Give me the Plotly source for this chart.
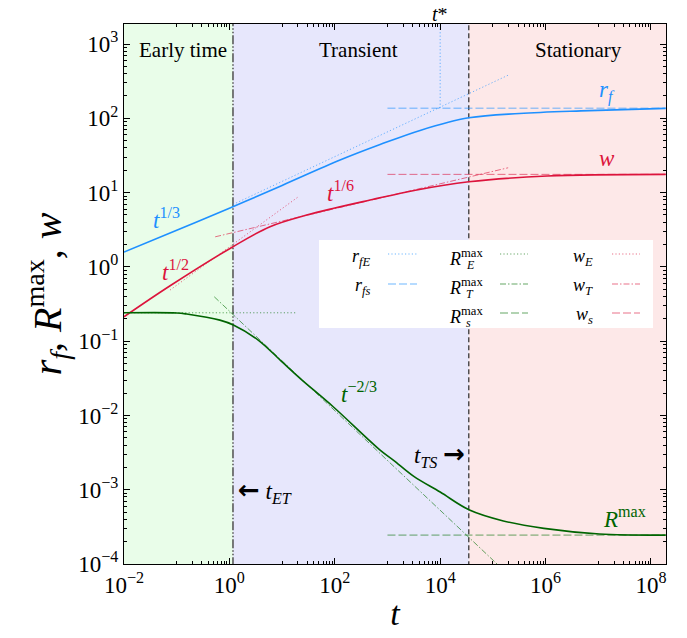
import plotly.graph_objects as go
import numpy as np

# ---------------- data ----------------
# main curves
t_rf = [1e-2, 1e-1, 1.0, 10, 126, 724, 4.3e3, 3.5e4, 3.2e5, 4.7e6, 1.9e8]
rf = [1.58, 3.12, 6.15, 12.5, 27.4, 44.3, 69.3, 101.6, 116.4, 126.2, 136]

t_w = [1e-2, 7.5e-2, 1.17, 5.9, 29.3, 100, 468, 3.2e3, 3.5e4, 1.07e6, 1.9e8]
w = [0.213, 0.557, 1.87, 3.47, 4.98, 6.2, 7.94, 10.7, 14.0, 16.7, 17.6]

t_R = [1e-2, 1e-1, 0.155, 0.66, 1.19, 3.52, 10, 21.9, 93.3, 724, 1.29e3,
       3.16e3, 1e4, 3.6e4, 1.58e5, 9.3e5, 1.05e7, 1.9e8]
Rmax = [0.241, 0.240, 0.232, 0.192, 0.165, 0.1035, 0.0525, 0.0316, 0.0131,
        3.42e-3, 2.51e-3, 1.51e-3, 9.3e-4, 5.33e-4, 3.8e-4, 3.02e-4, 2.54e-4, 2.45e-4]

# asymptotes (end points)
t_rfE, rfE = [1.17, 1.95e5], [6.92, 381]
t_rfs, rfs = [1e3, 1.93e8], [137, 137]
t_wE, wE = [0.0746, 20.3], [0.487, 8.78]
t_wT, wT = [0.537, 1.95e5], [2.54, 21.6]
t_ws, ws = [1e3, 1.93e8], [17.6, 17.6]
t_RE, RE = [1e-2, 18.8], [0.241, 0.241]
t_RT, RT = [0.516, 1.2e5], [0.396, 1e-4]
t_Rs, Rs = [1e3, 1.93e8], [2.45e-4, 2.45e-4]

# characteristic times
t_ET = 1.17
t_TS = 3.5e4
t_star = 1e4

x_tick_vals = [1e-2, 1e0, 1e2, 1e4, 1e6, 1e8]
x_tick_text = ["10<sup>−2</sup>", "10<sup>0</sup>", "10<sup>2</sup>", "10<sup>4</sup>",
               "10<sup>6</sup>", "10<sup>8</sup>"]
y_tick_vals = [1e-4, 1e-3, 1e-2, 1e-1, 1e0, 1e1, 1e2, 1e3]
y_tick_text = ["10<sup>−4</sup>", "10<sup>−3</sup>", "10<sup>−2</sup>", "10<sup>−1</sup>",
               "10<sup>0</sup>", "10<sup>1</sup>", "10<sup>2</sup>", "10<sup>3</sup>"]

XMIN, XMAX = 1e-2, 1.93e8
YLO, YHI = 1e-5, 1e4

BLUE = "rgb(30,144,255)"
RED = "rgb(220,20,60)"
GREEN = "rgb(0,100,0)"
BLUE_L = "rgba(30,144,255,0.65)"
RED_L = "rgba(220,20,60,0.6)"
GREEN_L = "rgba(0,110,0,0.6)"
FONT = "Liberation Serif"

DOT = "1.2px,2.2px"
DASH = "8px,3px"
DASHDOT = "6px,2px,1.5px,2px"

fig = go.Figure()

def region(x0, x1, color):
    fig.add_trace(go.Scatter(x=[x0, x1, x1, x0, x0], y=[YLO, YLO, YHI, YHI, YLO],
                             fill="toself", fillcolor=color, mode="lines",
                             line=dict(width=0), hoverinfo="skip", showlegend=False))

region(XMIN, t_ET, "rgb(233,253,233)")
region(t_ET, t_TS, "rgb(231,231,252)")
region(t_TS, XMAX, "rgb(253,232,232)")

def line(x, y, color, width, dash="solid", shape="linear"):
    fig.add_trace(go.Scatter(x=x, y=y, mode="lines", showlegend=False,
                             line=dict(color=color, width=width, dash=dash, shape=shape)))

# vertical markers
line([t_ET, t_ET], [YLO, YHI], "rgb(90,90,90)", 1.6, "9px,2px,1.5px,2px,1.5px,2px")
line([t_TS, t_TS], [YLO, YHI], "black", 1.0, "5px,3px")
line([t_star, t_star], [rfs[0], YHI], BLUE_L, 1.0, DOT)

# asymptotes
line(t_rfE, rfE, BLUE_L, 1.0, DOT)
line(t_rfs, rfs, BLUE_L, 1.0, DASH)
line(t_wE, wE, RED_L, 1.0, DOT)
line(t_wT, wT, RED_L, 1.0, DASHDOT)
line(t_ws, ws, RED_L, 1.0, DASH)
line(t_RE, RE, GREEN_L, 1.0, DOT)
line(t_RT, RT, GREEN_L, 1.0, DASHDOT)
line(t_Rs, Rs, GREEN_L, 1.0, DASH)

# main curves
line(t_rf, rf, BLUE, 1.6, shape="spline")
line(t_w, w, RED, 1.6, shape="spline")
line(t_R, Rmax, GREEN, 1.6, shape="spline")

# ---------------- legend box (manual, 3 columns) ----------------
# positions below are page pixels of the reference; the page body adds an 8px offset
L, T, W_, H_ = 124, 24, 542, 540
def px(x):
    return (x - L) / W_
def py(y):
    return (T + H_ - y) / H_

shapes = [dict(type="rect", xref="paper", yref="paper", x0=px(319), x1=px(653),
               y0=py(328), y1=py(240), fillcolor="white", line=dict(width=0), layer="above")]
annots = []
rows_line = [254, 284, 313]
rows_text = [257, 286, 315]
cols = [(373, 388, 417), (485, 500, 528), (595, 612, 640)]
legend_items = [
    (0, 0, "<i>r</i><sub><i>fE</i></sub>", None, BLUE_L, DOT),
    (0, 1, "<i>r</i><sub><i>fs</i></sub>", None, BLUE_L, DASH),
    (1, 0, "<i>R</i><sup>max</sup>", "<i>E</i>", GREEN_L, DOT),
    (1, 1, "<i>R</i><sup>max</sup>", "<i>T</i>", GREEN_L, DASHDOT),
    (1, 2, "<i>R</i><sup>max</sup>", "<i>s</i>", GREEN_L, DASH),
    (2, 0, "<i>w</i><sub><i>E</i></sub>", None, RED_L, DOT),
    (2, 1, "<i>w</i><sub><i>T</i></sub>", None, RED_L, DASHDOT),
    (2, 2, "<i>w</i><sub><i>s</i></sub>", None, RED_L, DASH),
]
for c, r, txt, sub, col, dash in legend_items:
    tx, lx0, lx1 = cols[c]
    shapes.append(dict(type="line", xref="paper", yref="paper", x0=px(lx0), x1=px(lx1),
                       y0=py(rows_line[r]), y1=py(rows_line[r]),
                       line=dict(color=col, width=1.2, dash=dash), layer="above"))
    annots.append(dict(xref="paper", yref="paper", x=px(tx), y=py(rows_text[r]),
                       xanchor="right", yanchor="middle", showarrow=False, text=txt,
                       font=dict(family=FONT, size=18, color="black")))
    if sub:
        annots.append(dict(xref="paper", yref="paper", x=px(tx - 21), y=py(rows_text[r] + 8),
                           xanchor="left", yanchor="middle", showarrow=False, text=sub,
                           font=dict(family=FONT, size=12, color="black")))

# ---------------- text labels ----------------
def lab(xl, yl, text, color, size=22, xanchor="center"):
    annots.append(dict(x=xl, y=yl, xref="x", yref="y", text=text, showarrow=False,
                       xanchor=xanchor, yanchor="middle",
                       font=dict(family=FONT, size=size, color=color)))

ARROW = "<span style='font-family:DejaVu Sans;font-size:26px;font-weight:bold'>{}</span>"
lab(-1.19, 0.653, "<i>t</i><sup>1/3</sup>", BLUE, 23)
lab(-1.03, -0.043, "<i>t</i><sup>1/2</sup>", RED, 23)
lab(2.108, 1.011, "<i>t</i><sup>1/6</sup>", RED, 23)
lab(2.46, -1.685, "<i>t</i><sup>−2/3</sup>", GREEN, 23)
lab(7.165, 2.357, "<i>r</i><sub><i>f</i></sub>", BLUE, 23)
lab(7.16, 1.46, "<i>w</i>", RED, 23)
lab(7.49, -3.37, "<i>R</i><sup>max</sup>", GREEN, 23)
lab(np.log10(t_TS) - 0.03, -2.533, "<i>t</i><sub><i>TS</i></sub> " + ARROW.format("→"), "black", 23, "right")
lab(np.log10(t_ET) + 0.05, -3.017, ARROW.format("←") + " <i>t</i><sub><i>ET</i></sub>", "black", 23, "left")

for xx, txt in [(183, "Early time"), (358, "Transient"), (578, "Stationary")]:
    annots.append(dict(xref="paper", yref="paper", x=px(xx), y=py(50), text=txt,
                       showarrow=False, xanchor="center", yanchor="middle",
                       font=dict(family=FONT, size=21, color="black")))
annots.append(dict(xref="x", yref="paper", x=np.log10(t_star), y=py(27),
                   text="<i>t</i>*", showarrow=False, xanchor="center",
                   yanchor="bottom", font=dict(family=FONT, size=20, color="black")))

# minor ticks
x_minor = [k * 10.0 ** e for e in [-1, 1, 3, 5, 7] for k in range(1, 10)]
y_minor = [k * 10.0 ** e for e in range(-4, 4) for k in range(2, 10)]

axis_common = dict(type="log", showgrid=False, zeroline=False, showline=True,
                   linecolor="black", linewidth=1.2, mirror="allticks",
                   ticks="inside", ticklen=6, tickwidth=1, tickcolor="black",
                   tickmode="array",
                   tickfont=dict(family=FONT, size=23, color="black"))

fig.update_layout(
    width=679, height=630,
    margin=dict(l=116, r=21, t=16, b=74),
    paper_bgcolor="white", plot_bgcolor="white",
    shapes=shapes, annotations=annots, showlegend=False,
    xaxis=dict(**axis_common, range=[np.log10(XMIN), np.log10(XMAX)],
               tickvals=x_tick_vals, ticktext=x_tick_text,
               minor=dict(ticks="inside", ticklen=3, tickcolor="black", tickmode="array",
                          tickvals=x_minor, showgrid=False),
               title=dict(text="<i>t</i>", font=dict(family=FONT, size=34, color="black"),
                          standoff=4)),
    yaxis=dict(**axis_common, range=[-4, 3.27],
               tickvals=y_tick_vals, ticktext=y_tick_text,
               minor=dict(ticks="inside", ticklen=3, tickcolor="black", tickmode="array",
                          tickvals=y_minor, showgrid=False),
               title=dict(text="<i>r</i><sub><i>f</i></sub>, <i>R</i><sup>max</sup>, <i>w</i>",
                          font=dict(family=FONT, size=40, color="black"), standoff=4)),
)

fig.write_html("out.html")
